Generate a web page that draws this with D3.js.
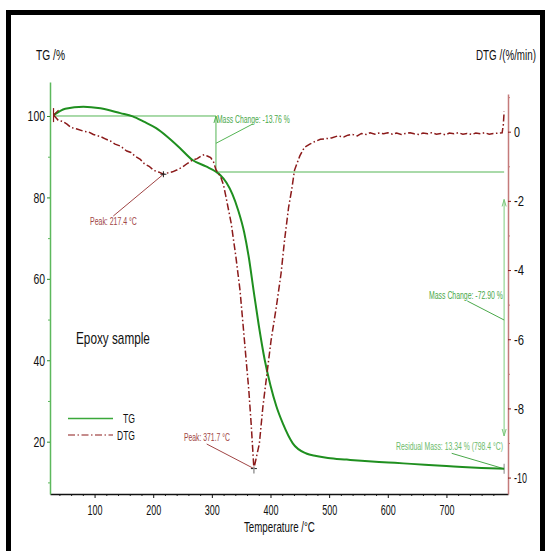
<!DOCTYPE html>
<html><head><meta charset="utf-8">
<script src="https://cdn.jsdelivr.net/npm/d3@7/dist/d3.min.js"></script>
<style>body{margin:0;background:#fff}svg{display:block}text{font-family:"Liberation Sans",Arial,sans-serif}</style>
</head><body>
<svg id="c" width="545" height="551"></svg>
<script>
// ---- data ----
const tgTemp = [30, 50, 81, 110, 144, 165, 184, 205, 224, 245, 267, 290, 307, 315, 325, 335, 345, 355, 363, 371, 380, 390, 400, 410, 421, 438, 461, 478, 498, 530, 555, 585, 612, 640, 670, 700, 727, 760, 798.4];
const tgMass = [100.2, 101.8, 102.3, 101.9, 100.7, 99.9, 98.6, 97.0, 94.9, 92.2, 89.2, 87.6, 86.3, 85.4, 83.6, 80.8, 76.8, 71.5, 65.3, 57.3, 48.6, 40.2, 33.8, 28.7, 24.5, 19.6, 17.1, 16.5, 16.0, 15.6, 15.3, 15.0, 14.8, 14.55, 14.3, 14.05, 13.8, 13.55, 13.34];

const dtgTemp = [30, 38, 45, 53, 60, 70, 80, 90, 98, 110, 120, 127, 135, 145, 150, 155, 162, 170, 178, 185, 193, 201, 210, 217.4, 225, 233, 241, 250, 258, 267, 275, 282, 287, 293, 298, 303, 307, 311, 315, 320, 324, 333, 341, 348, 353, 358, 363, 367, 371.7, 381, 387, 394, 401, 410, 418, 424, 431, 436, 441, 450, 458, 467, 475, 485, 495, 504, 515, 525, 532, 540, 548, 555, 563, 570, 578, 585, 593, 600, 608, 615, 623, 630, 638, 645, 653, 660, 668, 675, 683, 690, 698, 705, 713, 720, 728, 735, 743, 750, 758, 765, 773, 780, 788, 795, 797, 798.4];
const dtgRate = [0.48, 0.33, 0.30, 0.22, 0.12, 0.08, 0.02, -0.01, -0.08, -0.14, -0.22, -0.27, -0.36, -0.42, -0.50, -0.56, -0.60, -0.72, -0.80, -0.93, -1.0, -1.12, -1.17, -1.23, -1.19, -1.16, -1.10, -1.02, -0.92, -0.82, -0.78, -0.70, -0.66, -0.71, -0.75, -0.88, -1.1, -1.2, -1.3, -1.55, -1.88, -2.65, -3.62, -4.58, -5.54, -6.51, -7.47, -8.44, -9.74, -9.02, -7.96, -6.99, -6.03, -5.06, -4.10, -3.13, -2.17, -1.69, -1.11, -0.70, -0.45, -0.36, -0.29, -0.22, -0.20, -0.18, -0.12, -0.15, -0.10, -0.08, -0.12, -0.05, -0.08, -0.03, -0.07, -0.04, -0.06, -0.03, -0.07, -0.04, -0.08, -0.05, -0.03, -0.06, -0.08, -0.04, -0.06, -0.03, -0.07, -0.05, -0.09, -0.04, -0.06, -0.03, -0.07, -0.05, -0.08, -0.04, -0.06, -0.03, -0.07, -0.05, -0.04, -0.03, 0.2, 0.58];

const xMajor = [100, 200, 300, 400, 500, 600, 700];
const tgMajor = [20, 40, 60, 80, 100];
const dtgMajor = [-10, -8, -6, -4, -2, 0];

// ---- layout ----
const svg = d3.select("#c");
const L = 50, R = 508, B = 494;
const x = d3.scaleLinear().domain([24, 805]).range([L, R]);
const yT = d3.scaleLinear().domain([7.15, 108.35]).range([B, 82]);
const yD = d3.scaleLinear().domain([-10.475, 1.09]).range([B, 94]);

const GREEN_AX = "#5cb85c", RED_AX = "#c47a7a", TG_C = "#1f8f1f", DTG_C = "#8b1a1a";
const ANN_G = "#4aa84a", ANN_R = "#a04545";

// text squeezed horizontally to a target width via a transform
function txt(s, px, py, o) {
  const t = svg.append("text").attr("x", 0).attr("y", 0).text(s)
    .attr("font-size", o.size || 12).attr("fill", o.color || "#111");
  const nat = t.node().getComputedTextLength();
  const sx = o.w ? o.w / nat : 1;
  const left = o.anchor === "end" ? px - nat * sx : px;
  t.attr("transform", `translate(${left},${py}) scale(${sx},1)`);
  return t;
}

// frame
svg.append("rect").attr("x", 8.5).attr("y", 12.5).attr("width", 534).attr("height", 560)
  .attr("fill", "none").attr("stroke", "#000").attr("stroke-width", 5);

// minor ticks
const xMinor = d3.range(40, 790, 20).filter(v => v % 100 !== 0);
svg.append("g").attr("transform", `translate(0,${B})`)
  .call(d3.axisBottom(x).tickValues(xMinor).tickSize(2).tickFormat(""))
  .call(g => g.select(".domain").remove()).selectAll("line").attr("stroke", "#222");
svg.append("g").attr("transform", `translate(${L},0)`)
  .call(d3.axisLeft(yT).tickValues([10, 30, 50, 70, 90]).tickSize(2).tickFormat(""))
  .call(g => g.select(".domain").remove()).selectAll("line").attr("stroke", GREEN_AX);
svg.append("g").attr("transform", `translate(${R},0)`)
  .call(d3.axisRight(yD).tickValues([-9, -7, -5, -3, -1, 1]).tickSize(2).tickFormat(""))
  .call(g => g.select(".domain").remove()).selectAll("line").attr("stroke", RED_AX);

// major axes
const gx = svg.append("g").attr("transform", `translate(0,${B})`)
  .call(d3.axisBottom(x).tickValues(xMajor).tickSize(4).tickSizeOuter(0).tickPadding(6.5));
gx.select(".domain").attr("stroke", "#111").attr("stroke-width", 1.3);
gx.selectAll("line").attr("stroke", "#111");
gx.selectAll("text").attr("font-size", 15).attr("fill", "#111").attr("font-family", "Liberation Sans")
  .attr("textLength", 15).attr("lengthAdjust", "spacingAndGlyphs");

const gl = svg.append("g").attr("transform", `translate(${L},0)`)
  .call(d3.axisLeft(yT).tickValues(tgMajor).tickSize(3).tickSizeOuter(0).tickPadding(2));
gl.select(".domain").attr("stroke", GREEN_AX).attr("stroke-width", 1.5);
gl.selectAll("line").attr("stroke", "#2a8a2a");
gl.selectAll("text").attr("font-size", 15).attr("fill", "#111").attr("font-family", "Liberation Sans")
  .attr("textLength", d => String(d).length * 5.8).attr("lengthAdjust", "spacingAndGlyphs");

const gr = svg.append("g").attr("transform", `translate(${R},0)`)
  .call(d3.axisRight(yD).tickValues(dtgMajor).tickSize(3).tickSizeOuter(0).tickPadding(3));
gr.select(".domain").attr("stroke", RED_AX).attr("stroke-width", 1.5);
gr.selectAll("line").attr("stroke", "#8b1a1a");
gr.selectAll("text").attr("font-size", 15).attr("fill", "#111").attr("font-family", "Liberation Sans")
  .text(d => d < 0 ? "-" + Math.abs(d) : String(d))
  .attr("textLength", d => d === 0 ? 6 : (d <= -10 ? 13 : 10)).attr("lengthAdjust", "spacingAndGlyphs");

// axis titles
txt("TG /%", 36, 60, {size: 14, w: 29});
txt("DTG /(%/min)", 476, 60, {size: 14, w: 60});
txt("Temperature /°C", 244, 532, {size: 15, w: 71});

// annotation lines (TG)
const ln = (x1, y1, x2, y2, c, w) => svg.append("line").attr("x1", x1).attr("y1", y1).attr("x2", x2).attr("y2", y2)
  .attr("stroke", c).attr("stroke-width", w || 1);
const xs = x(307), y100 = yT(100), y86 = yT(86.24), yRes = yT(13.34), xe = x(798.4);
ln(x(30), y100, xs, y100, "#55b555");
ln(xs, y100, xs, y86, "#55b555");
ln(xs, y86, xe, y86, "#55b555");
svg.append("path").attr("d", `M${xs - 2},${y100 + 7}L${xs},${y100}L${xs + 2},${y100 + 7}`).attr("fill", "none").attr("stroke", "#55b555");
ln(252.7, 124, xs, 143.3, "#55b555");
txt("Mass Change: -13.76 %", xs + 1, 123, {size: 11, w: 73, color: ANN_G});

const yTop2 = yT(79.5), yBot2 = yT(21.4);
ln(xe, yTop2, xe, yBot2, "#9ad89a", 1.3);
svg.append("path").attr("d", `M${xe - 2},${yTop2 + 7}L${xe},${yTop2}L${xe + 2},${yTop2 + 7}`).attr("fill", "none").attr("stroke", "#7cc87c");
svg.append("path").attr("d", `M${xe - 2},${yBot2 - 7}L${xe},${yBot2}L${xe + 2},${yBot2 - 7}`).attr("fill", "none").attr("stroke", "#7cc87c");
ln(467.3, 301, xe, 320, "#4aa84a");
txt("Mass Change: -72.90 %", 429, 299, {size: 11, w: 74, color: ANN_G});

ln(451.7, 453.3, xe, yRes, "#4aa84a");
ln(xe, yRes - 5, xe, yRes + 5, "#999", 1.2);
txt("Residual Mass: 13.34 % (798.4 °C)", 396, 450, {size: 11, w: 107, color: "#6cbb6c"});

// series
const tgLine = d3.line().x((d, i) => x(tgTemp[i])).y(d => yT(d)).curve(d3.curveMonotoneX);
svg.append("path").attr("d", tgLine(tgMass)).attr("fill", "none").attr("stroke", TG_C).attr("stroke-width", 2);

const dtgLine = d3.line().x((d, i) => x(dtgTemp[i])).y(d => yD(d)).curve(d3.curveLinear);
svg.append("path").attr("d", dtgLine(dtgRate)).attr("fill", "none").attr("stroke", DTG_C)
  .attr("stroke-width", 1.5).attr("stroke-dasharray", "7,2.5,1.5,2.5");

// start marker
ln(x(30), yD(0.48) - 7, x(30), yD(0.48) + 7, "#8b1a1a", 1.2);
ln(x(30), yD(0.48), x(30) + 5, yD(0.48) - 5, "#8b1a1a", 1.2);

// peaks
const p1x = x(217.4), p1y = yD(-1.23), p2x = x(371.7), p2y = yD(-9.74);
ln(113.3, 216, p1x, p1y, ANN_R);
ln(p1x - 3, p1y, p1x + 3, p1y, "#222"); ln(p1x, p1y - 3, p1x, p1y + 3, "#222");
txt("Peak: 217.4 °C", 90, 225, {size: 11, w: 47, color: ANN_R});
ln(206.7, 444, p2x, p2y, ANN_R);
ln(p2x - 3, p2y, p2x + 3, p2y, "#222"); ln(p2x, p2y - 2, p2x, p2y + 5, "#999", 1.5);
txt("Peak: 371.7 °C", 184, 441, {size: 11, w: 46, color: ANN_R});

// legend
ln(68, 418.5, 113, 418.5, "#3aa83a", 1.5);
txt("TG", 135, 423, {size: 13, w: 12, anchor: "end"});
svg.append("line").attr("x1", 68).attr("y1", 435).attr("x2", 113).attr("y2", 435)
  .attr("stroke", DTG_C).attr("stroke-width", 1.2).attr("stroke-dasharray", "7,2.5,1.5,2.5");
txt("DTG", 135, 440, {size: 13, w: 18, anchor: "end"});

txt("Epoxy sample", 76, 344, {size: 16, w: 74});
</script>
</body></html>
